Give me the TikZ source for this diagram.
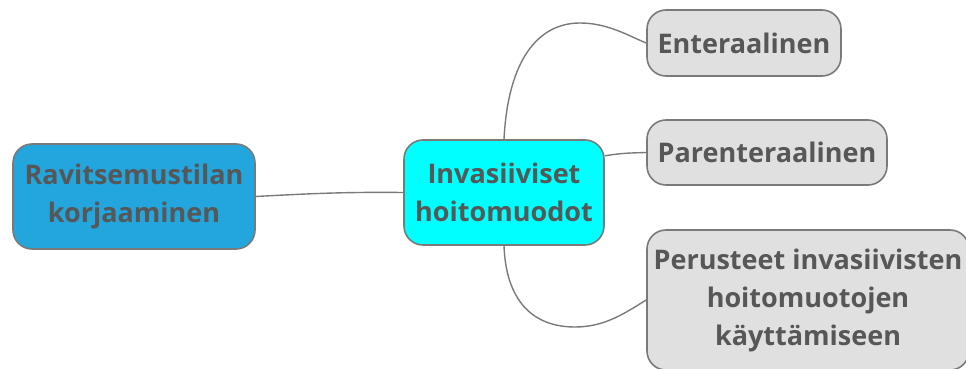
\documentclass[tikz,border=0pt]{standalone}
\usepackage{fontspec}
\setmainfont{Open Sans}
\definecolor{txt}{HTML}{575757}
\definecolor{edge}{HTML}{7A7A7A}
\definecolor{rootfill}{HTML}{22A6DD}
\definecolor{midfill}{HTML}{00FFFF}
\definecolor{leaffill}{HTML}{E0E0E0}
\begin{document}
\begin{tikzpicture}[x=1pt,y=-1pt,
  topic/.style={draw=edge, line width=1.6pt, rounded corners=19pt, align=center,
    text=txt, font=\bfseries\fontsize{27}{38}\selectfont, inner sep=0pt},
  link/.style={draw=edge, line width=1.4pt}]
\useasboundingbox (0,0) rectangle (966,369);

\node[topic, fill=rootfill, minimum width=242pt, minimum height=105pt] (root) at (134,196.5) {Ravitsemustilan\\korjaaminen};
\node[topic, fill=midfill, minimum width=200pt, minimum height=105pt] (mid) at (504,192.5) {Invasiiviset\\hoitomuodot};
\node[topic, fill=leaffill, minimum width=194pt, minimum height=66pt] (ent) at (744,43) {Enteraalinen};
\node[topic, fill=leaffill, minimum width=240pt, minimum height=65pt] (par) at (767,152.5) {Parenteraalinen};
\node[topic, fill=leaffill, minimum width=322pt, minimum height=140pt] (per) at (808,300) {Perusteet invasiivisten\\hoitomuotojen\\käyttämiseen};

\draw[link] (root.east) .. controls (320,193) and (350,192) .. (mid.west);
\draw[link] (mid.north) .. controls (508,60) and (538,23) .. (580,23)
  .. controls (607,23) and (627,35) .. (ent.west);
\draw[link] (mid.20) .. controls (622,153) and (630,153) .. (par.west);
\draw[link] (mid.south) .. controls (506,300) and (532,327) .. (575,327)
  .. controls (605,327) and (625,313) .. (per.west);
\end{tikzpicture}
\end{document}
